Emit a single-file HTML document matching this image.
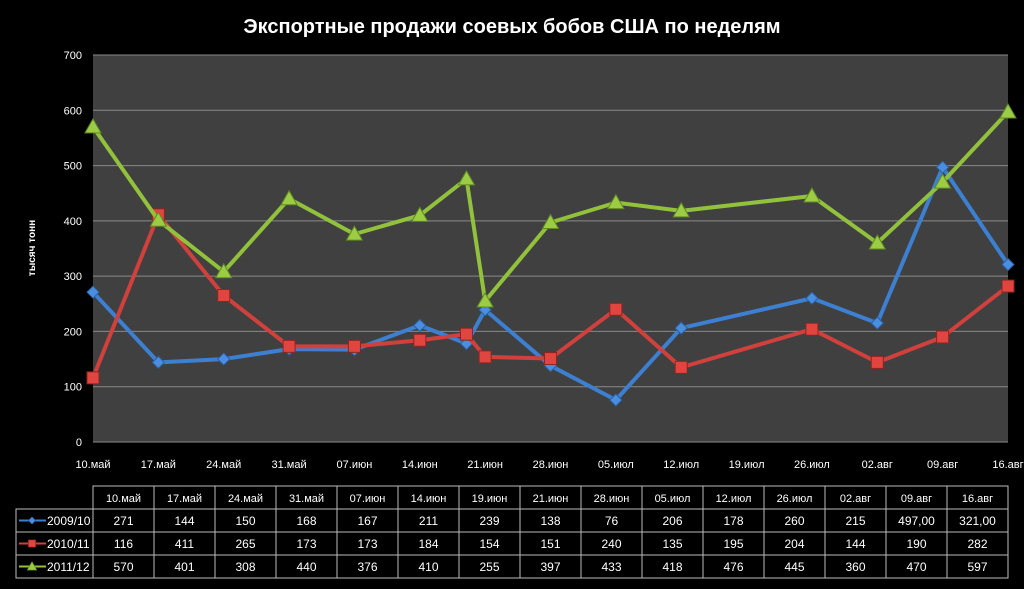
<!DOCTYPE html>
<html><head><meta charset="utf-8"><style>
html,body{margin:0;padding:0;background:#000;}
svg{display:block;font-family:"Liberation Sans","DejaVu Sans",sans-serif;}
</style></head><body>
<svg id="chart" width="1024" height="589" viewBox="0 0 1024 589" xmlns="http://www.w3.org/2000/svg">
<rect width="1024" height="589" fill="#000"/>
<text x="512" y="33" fill="#fff" font-size="20" font-weight="bold" text-anchor="middle">Экспортные продажи соевых бобов США по неделям</text>
<rect x="93" y="55" width="915" height="387" fill="#404040"/>
<text transform="translate(35,248) rotate(-90)" fill="#fff" font-size="10" font-weight="bold" text-anchor="middle">тысяч тонн</text>
<g id="grid"></g><g id="axes"></g><g id="series"></g><g id="table"></g>
</svg>
<script>
const axisLabels = ["10.май","17.май","24.май","31.май","07.июн","14.июн","21.июн","28.июн","05.июл","12.июл","19.июл","26.июл","02.авг","09.авг","16.авг"];
const yTicks = [0,100,200,300,400,500,600,700];
const plotDays = [0,7,14,21,28,35,40,42,49,56,63,77,84,91,98];
const s1Plot = [271,144,150,168,167,211,178,239,138,76,206,260,215,497,321];
const s2Plot = [116,411,265,173,173,184,195,154,151,240,135,204,144,190,282];
const s3Plot = [570,401,308,440,376,410,476,255,397,433,418,445,360,470,597];
const seriesNames = ["2009/10","2010/11","2011/12"];
const tableCols = ["10.май","17.май","24.май","31.май","07.июн","14.июн","19.июн","21.июн","28.июн","05.июл","12.июл","26.июл","02.авг","09.авг","16.авг"];
const t1 = ["271","144","150","168","167","211","239","138","76","206","178","260","215","497,00","321,00"];
const t2 = ["116","411","265","173","173","184","154","151","240","135","195","204","144","190","282"];
const t3 = ["570","401","308","440","376","410","255","397","433","418","476","445","360","470","597"];

const NS="http://www.w3.org/2000/svg";
const X0=93,X1=1008,Y0=442,Y1=55,DMAX=98,VMAX=700;
const xs=d=>X0+(X1-X0)*d/DMAX;
const ys=v=>Y0-(Y0-Y1)*v/VMAX;
function mk(tag,attrs,parent){const e=document.createElementNS(NS,tag);for(const k in attrs)e.setAttribute(k,attrs[k]);parent.appendChild(e);return e;}
const grid=document.getElementById('grid'),axes=document.getElementById('axes'),ser=document.getElementById('series'),tbl=document.getElementById('table');
yTicks.forEach(v=>{
  const l=mk('line',{x1:X0,x2:X1,y1:ys(v),y2:ys(v),stroke:'#8a8a8a','stroke-width':1},grid);
  
  
  const t=mk('text',{x:82,y:ys(v)+4,fill:'#fff','font-size':11,'text-anchor':'end'},axes);
  t.textContent=v;
  
  
});
axisLabels.forEach((s,i)=>{
  const t=mk('text',{x:xs(i*7),y:468,fill:'#fff','font-size':11,'text-anchor':'middle'},axes);
  t.textContent=s;
  
  
});
const colors=['#3d7fd0','#d0403c','#92c13c'];
const data=[s1Plot,s2Plot,s3Plot];
function marker(k,x,y,g){
  let m;
  if(k===0)m=mk('polygon',{points:`${x},${y-6} ${x+6},${y} ${x},${y+6} ${x-6},${y}`,fill:'#4a8ee0',stroke:'#2c5f9e','stroke-width':1},g);
  else if(k===1)m=mk('rect',{x:x-6,y:y-6,width:12,height:12,fill:'#e0453f',stroke:'#8e2521','stroke-width':1},g);
  else m=mk('polygon',{points:`${x},${y-8} ${x+8},${y+6} ${x-8},${y+6}`,fill:'#9bcc44',stroke:'#5f8a22','stroke-width':1},g);
  return m;
}
data.forEach((arr,k)=>{
  const g=mk('g',{},ser);
  
  
  const pts=arr.map((v,i)=>xs(plotDays[i])+','+ys(v)).join(' ');
  const pl=mk('polyline',{points:pts,fill:'none',stroke:colors[k],'stroke-width':4,'stroke-linejoin':'round'},g);
  
  
  arr.forEach((v,i)=>{
    const m=marker(k,xs(plotDays[i]),ys(v),g);
    
    
  });
});
// table
const TX=93,CW=61,rowsY=[486,509,532,555,578],LX=16;
const bs={stroke:'#bbb','stroke-width':1,fill:'none'};
tableCols.forEach((c,i)=>{
  const r=mk('rect',Object.assign({x:TX+i*CW,y:rowsY[0],width:CW,height:23},bs),tbl);
  
  
  const t=mk('text',{x:TX+i*CW+CW/2,y:rowsY[0]+16,fill:'#fff','font-size':11,'text-anchor':'middle'},tbl);
  t.textContent=c;
  
  
});
[t1,t2,t3].forEach((row,k)=>{
  const y=rowsY[k+1];
  const lr=mk('rect',Object.assign({x:LX,y:y,width:TX-LX,height:23},bs),tbl);
  
  
  const ll=mk('line',{x1:LX+3,x2:LX+30,y1:y+11.5,y2:y+11.5,stroke:colors[k],'stroke-width':2},tbl);
  
  
  const mm=marker(k,LX+16,y+11.5,tbl);
  mm.setAttribute('transform',`translate(${LX+16},${y+11.5}) scale(0.6) translate(${-(LX+16)},${-(y+11.5)})`);
  
  
  const lt=mk('text',{x:LX+31,y:y+16,fill:'#fff','font-size':12},tbl);
  lt.textContent=seriesNames[k];
  
  
  row.forEach((v,i)=>{
    const r=mk('rect',Object.assign({x:TX+i*CW,y:y,width:CW,height:23},bs),tbl);
    
    
    const t=mk('text',{x:TX+i*CW+CW/2,y:y+16,fill:'#fff','font-size':12,'text-anchor':'middle'},tbl);
    t.textContent=v;
    
    
  });
});
</script>
</body></html>
